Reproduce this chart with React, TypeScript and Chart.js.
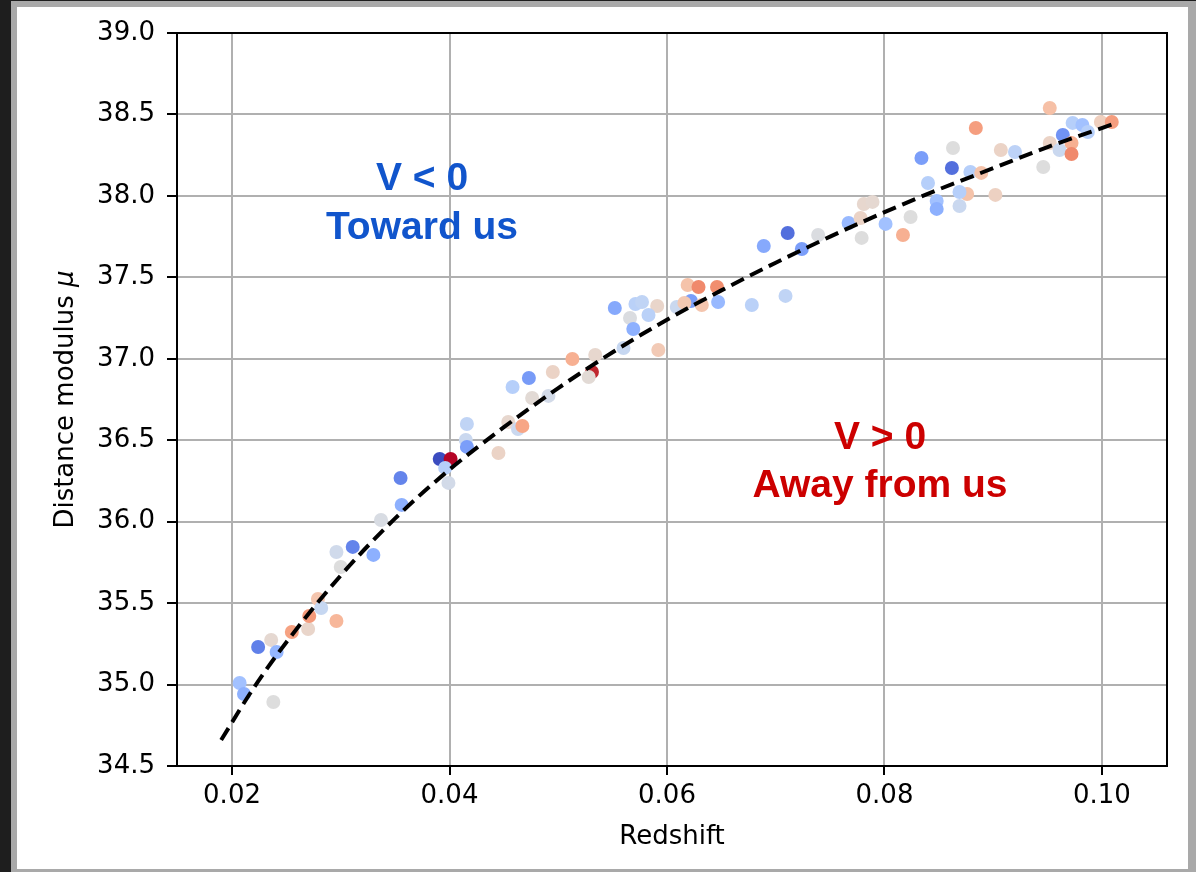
import React, { useEffect, useRef } from "react";
import { Chart, registerables } from "chart.js";

Chart.register(...registerables);

// ---- Data ----
const redshift = [
  0.0207, 0.0211, 0.0238, 0.0224, 0.0236, 0.0241, 0.0255, 0.0270, 0.0271, 0.0279,
  0.0282, 0.0296, 0.0296, 0.0311, 0.0300, 0.0330, 0.0337, 0.0355, 0.0356, 0.0391,
  0.0401, 0.0396, 0.0399, 0.0416, 0.0415, 0.0416, 0.0445, 0.0454, 0.0463, 0.0467,
  0.0458, 0.0473, 0.0476, 0.0491, 0.0495, 0.0513, 0.0534, 0.0531, 0.0528, 0.0552,
  0.0571, 0.0577, 0.0591, 0.0566, 0.0583, 0.0569, 0.0560, 0.0592, 0.0619, 0.0629,
  0.0646, 0.0609, 0.0622, 0.0616, 0.0632, 0.0647, 0.0678, 0.0709, 0.0689, 0.0711,
  0.0724, 0.0739, 0.0767, 0.0778, 0.0781, 0.0789, 0.0779, 0.0801, 0.0817, 0.0824,
  0.0834, 0.0840, 0.0848, 0.0848, 0.0862, 0.0863, 0.0876, 0.0869, 0.0869, 0.0879,
  0.0884, 0.0889, 0.0902, 0.0907, 0.0920, 0.0946, 0.0952, 0.0952, 0.0961, 0.0964,
  0.0972, 0.0972, 0.0973, 0.0982, 0.0987, 0.0999, 0.1009,
];

const distanceModulus = [
  35.010, 34.942, 34.893, 35.231, 35.274, 35.200, 35.323, 35.341, 35.421, 35.525,
  35.470, 35.390, 35.814, 35.845, 35.722, 35.796, 36.010, 36.268, 36.103, 36.385,
  36.385, 36.330, 36.238, 36.600, 36.502, 36.459, 36.422, 36.612, 36.569, 36.587,
  36.827, 36.882, 36.759, 36.772, 36.919, 36.999, 37.023, 36.919, 36.888, 37.312,
  37.336, 37.349, 37.324, 37.250, 37.269, 37.183, 37.066, 37.054, 37.453, 37.441,
  37.441, 37.318, 37.355, 37.343, 37.330, 37.349, 37.330, 37.386, 37.692, 37.772,
  37.674, 37.760, 37.834, 37.864, 37.950, 37.963, 37.742, 37.828, 37.760, 37.870,
  38.233, 38.079, 37.969, 37.920, 38.171, 38.294, 38.012, 38.024, 37.938, 38.147,
  38.417, 38.141, 38.006, 38.282, 38.269, 38.177, 38.540, 38.325, 38.282, 38.374,
  38.325, 38.257, 38.448, 38.435, 38.392, 38.454, 38.454,
];

// peculiar velocity (normalised, -1 = toward us, +1 = away from us)
const velocity = [
  -0.38, -0.50, 0.00, -0.76, 0.06, -0.46, 0.46, 0.10, 0.50, 0.24,
  -0.16, 0.34, -0.10, -0.74, 0.00, -0.50, -0.04, -0.74, -0.50, -1.00,
  1.00, -0.26, -0.08, -0.20, -0.14, -0.60, 0.12, 0.08, -0.14, 0.44,
  -0.26, -0.62, 0.04, -0.08, 0.12, 0.38, 0.08, 0.94, 0.04, -0.54,
  -0.24, -0.20, 0.10, -0.02, -0.24, -0.50, -0.16, 0.20, 0.26, 0.58,
  0.56, -0.14, -0.60, 0.22, 0.24, -0.44, -0.24, -0.20, -0.54, -0.84,
  -0.60, -0.02, -0.44, 0.12, 0.08, 0.06, 0.00, -0.38, 0.38, 0.00,
  -0.60, -0.26, -0.38, -0.50, -0.84, 0.00, 0.26, -0.26, -0.14, -0.26,
  0.48, 0.26, 0.14, 0.12, -0.22, 0.00, 0.28, 0.12, -0.14, -0.66,
  0.38, 0.58, -0.26, -0.38, -0.26, 0.16, 0.48,
];

// dashed Hubble-law curve
const fitRedshift = [
  0.019, 0.022, 0.025, 0.03, 0.035, 0.04, 0.045, 0.05, 0.055, 0.06,
  0.065, 0.07, 0.075, 0.08, 0.085, 0.09, 0.095, 0.101,
];
const fitModulus = [
  34.66, 34.98, 35.26, 35.67, 36.02, 36.32, 36.58, 36.82, 37.04, 37.24,
  37.42, 37.59, 37.75, 37.90, 38.04, 38.17, 38.30, 38.44,
];

const xTicks = [0.02, 0.04, 0.06, 0.08, 0.1];
const yTicks = [34.5, 35.0, 35.5, 36.0, 36.5, 37.0, 37.5, 38.0, 38.5, 39.0];

const X_MIN = 0.01494;
const X_MAX = 0.10598;
const Y_MIN = 34.5;
const Y_MAX = 39.0;

const xTitle = "Redshift";
const yTitle = "Distance modulus ";
const yTitleSymbol = "μ";

const annotations = [
  { text: "V < 0", x: 0.03747, y: 38.1, color: "#1155cc" },
  { text: "Toward us", x: 0.03747, y: 37.8, color: "#1155cc" },
  { text: "V > 0", x: 0.07959, y: 36.51, color: "#cc0000" },
  { text: "Away from us", x: 0.07959, y: 36.22, color: "#cc0000" },
];

// ---- coolwarm colormap ----
const COOLWARM: number[][] = [
  [59, 76, 192], [68, 90, 204], [77, 104, 215], [87, 117, 225], [98, 130, 234],
  [108, 142, 241], [119, 154, 247], [130, 165, 251], [141, 176, 254], [152, 185, 255],
  [163, 194, 255], [174, 201, 253], [184, 208, 249], [194, 213, 244], [204, 217, 238],
  [213, 219, 230], [221, 221, 221], [229, 216, 209], [236, 211, 197], [241, 204, 184],
  [245, 196, 172], [247, 187, 159], [247, 177, 147], [247, 166, 134], [244, 154, 123],
  [241, 141, 111], [236, 127, 99], [229, 112, 88], [222, 96, 77], [213, 80, 66],
  [203, 62, 56], [192, 40, 47], [180, 4, 38],
];

function coolwarm(v: number): string {
  const t = Math.max(0, Math.min(1, (v + 1) / 2));
  const f = t * (COOLWARM.length - 1);
  const i = Math.min(COOLWARM.length - 2, Math.floor(f));
  const r = f - i;
  const a = COOLWARM[i];
  const b = COOLWARM[i + 1];
  const c = a.map((ai, k) => Math.round(ai + (b[k] - ai) * r));
  return `rgb(${c[0]},${c[1]},${c[2]})`;
}

const FONT = '"DejaVu Sans", sans-serif';

export default function App() {
  const canvasRef = useRef<HTMLCanvasElement | null>(null);

  useEffect(() => {
    const canvas = canvasRef.current;
    if (!canvas) return;

    const decorPlugin = {
      id: "decor",
      afterDraw(chart: any) {
        const { ctx, chartArea, scales } = chart;
        ctx.save();
        // spines
        ctx.strokeStyle = "#000";
        ctx.lineWidth = 2;
        ctx.strokeRect(chartArea.left, chartArea.top, chartArea.right - chartArea.left, chartArea.bottom - chartArea.top);

        // x title
        ctx.fillStyle = "#000";
        ctx.font = `26px ${FONT}`;
        ctx.textAlign = "center";
        ctx.textBaseline = "middle";
        ctx.fillText(xTitle, (chartArea.left + chartArea.right) / 2, chartArea.bottom + 71);

        // y title with italic mu
        ctx.save();
        const cy = (chartArea.top + chartArea.bottom) / 2;
        ctx.translate(chartArea.left - 111, cy);
        ctx.rotate(-Math.PI / 2);
        ctx.font = `26px ${FONT}`;
        const w1 = ctx.measureText(yTitle).width;
        ctx.font = `italic 26px ${FONT}`;
        const w2 = ctx.measureText(yTitleSymbol).width;
        const start = -(w1 + w2) / 2;
        ctx.textAlign = "left";
        ctx.textBaseline = "middle";
        ctx.font = `26px ${FONT}`;
        ctx.fillText(yTitle, start, 0);
        ctx.font = `italic 26px ${FONT}`;
        ctx.fillText(yTitleSymbol, start + w1, 0);
        ctx.restore();

        // annotations
        ctx.font = `bold 39px "Liberation Sans", Arial, sans-serif`;
        ctx.textAlign = "center";
        ctx.textBaseline = "middle";
        for (const a of annotations) {
          ctx.fillStyle = a.color;
          ctx.fillText(a.text, scales.x.getPixelForValue(a.x), scales.y.getPixelForValue(a.y));
        }
        ctx.restore();
      },
    };

    const scatterData = redshift.map((z, i) => ({ x: z, y: distanceModulus[i] }));
    const fitData = fitRedshift.map((z, i) => ({ x: z, y: fitModulus[i] }));

    const chart = new Chart(canvas, {
      type: "scatter",
      data: {
        datasets: [
          {
            type: "line",
            data: fitData,
            order: 0,
            showLine: true,
            borderColor: "#000",
            borderWidth: 4,
            borderDash: [14, 7],
            pointRadius: 0,
            fill: false,
            cubicInterpolationMode: "monotone",
          } as any,
          {
            data: scatterData,
            order: 1,
            pointRadius: 7,
            pointHoverRadius: 7,
            pointBorderWidth: 0,
            pointBackgroundColor: velocity.map((v) => coolwarm(v)),
            borderWidth: 0,
          } as any,
        ],
      },
      options: {
        animation: false,
        responsive: false,
        devicePixelRatio: 1,
        events: [],
        layout: { padding: { left: 77, right: 29, top: 33, bottom: 46 } },
        plugins: {
          legend: { display: false },
          tooltip: { enabled: false },
        },
        scales: {
          x: {
            type: "linear",
            min: X_MIN,
            max: X_MAX,
            afterBuildTicks: (scale: any) => {
              scale.ticks = xTicks.map((v) => ({ value: v }));
            },
            afterFit: (scale: any) => {
              scale.height = 60;
            },
            ticks: {
              color: "#000",
              font: { family: FONT, size: 26 },
              padding: 6,
              maxRotation: 0,
              autoSkip: false,
              callback: (v: any) => Number(v).toFixed(2),
            },
            grid: {
              color: "#b0b0b0",
              lineWidth: 2,
              drawTicks: true,
              tickLength: 9,
              tickColor: "#000",
              tickWidth: 2,
            },
            border: { display: false },
          },
          y: {
            type: "linear",
            min: Y_MIN,
            max: Y_MAX,
            afterBuildTicks: (scale: any) => {
              scale.ticks = yTicks.map((v) => ({ value: v }));
            },
            afterFit: (scale: any) => {
              scale.width = 100;
            },
            ticks: {
              color: "#000",
              font: { family: FONT, size: 26 },
              padding: 12,
              autoSkip: false,
              callback: (v: any) => Number(v).toFixed(1),
            },
            grid: {
              color: "#b0b0b0",
              lineWidth: 2,
              drawTicks: true,
              tickLength: 10,
              tickColor: "#000",
              tickWidth: 2,
            },
            border: { display: false },
          },
        },
      },
      plugins: [decorPlugin],
    });

    return () => chart.destroy();
  }, []);

  return (
    <div style={{ position: "fixed", left: 0, top: 0, width: 1196, height: 872, background: "#1e1e1e", overflow: "hidden" }}>
      <div
        style={{
          position: "absolute",
          left: 11,
          top: 1,
          width: 1185,
          height: 871,
          boxSizing: "border-box",
          background: "#ffffff",
          borderLeft: "6px solid #a9a9a9",
          borderTop: "6px solid #a9a9a9",
          borderRight: "8px solid #a9a9a9",
          borderBottom: "3px solid #a9a9a9",
        }}
      />
      <canvas ref={canvasRef} width={1196} height={872} style={{ position: "absolute", left: 0, top: 0, width: 1196, height: 872 }} />
    </div>
  );
}
